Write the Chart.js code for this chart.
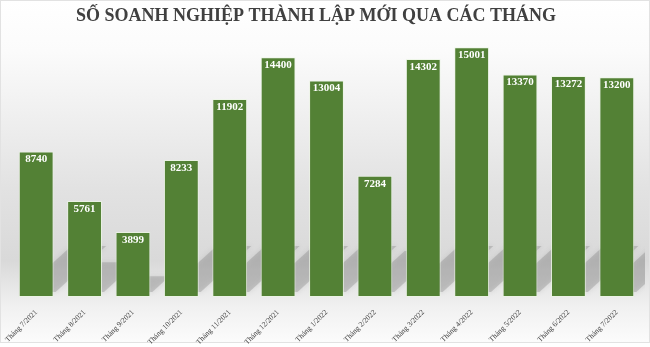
<!DOCTYPE html>
<html>
<head>
<meta charset="utf-8">
<script src="https://cdn.jsdelivr.net/npm/chart.js@4"></script>
<style>
  html, body { margin: 0; padding: 0; background: #fff; }
  #wrap { width: 650px; height: 347px; }
</style>
</head>
<body>
<div id="wrap"><canvas id="chart"></canvas></div>
<script>
// du lieu
var months = ["Tháng 7/2021", "Tháng 8/2021", "Tháng 9/2021", "Tháng 10/2021", "Tháng 11/2021",
  "Tháng 12/2021", "Tháng 1/2022", "Tháng 2/2022", "Tháng 3/2022", "Tháng 4/2022",
  "Tháng 5/2022", "Tháng 6/2022", "Tháng 7/2022"];
var soDoanhNghiep = [8740, 5761, 3899, 8233, 11902, 14400, 13004, 7284, 14302, 15001, 13370, 13272, 13200];
var tieuDe = "SỐ SOANH NGHIỆP THÀNH LẬP MỚI QUA CÁC THÁNG";

// nen, tieu de, bong cua cot, nhan gia tri
var nenPlugin = {
  id: "nen",
  beforeDraw: function (chart) {
    var ctx = chart.ctx;
    var w = chart.width, h = 343;
    var g = ctx.createLinearGradient(0, 0, 0, h);
    g.addColorStop(0, "#ffffff");
    g.addColorStop(0.15, "#fbfbfb");
    g.addColorStop(0.55, "#e2e2e2");
    g.addColorStop(0.76, "#d9d9d9");
    g.addColorStop(0.89, "#f0f0f0");
    g.addColorStop(1, "#fcfcfc");
    ctx.save();
    ctx.fillStyle = "#ffffff";
    ctx.fillRect(0, 0, w, chart.height);
    ctx.fillStyle = g;
    ctx.fillRect(0, 0, w, h);
    ctx.strokeStyle = "#e2e2e2";
    ctx.lineWidth = 1;
    ctx.strokeRect(0.5, 0.5, w - 1, h - 1);
    // tieu de
    ctx.fillStyle = "#404040";
    ctx.font = "bold 18px 'Liberation Serif'";
    ctx.textAlign = "center";
    ctx.textBaseline = "middle";
    ctx.fillText(tieuDe, 316, 16);
    ctx.restore();
  },
  beforeDatasetsDraw: function (chart) {
    var ctx = chart.ctx;
    var meta = chart.getDatasetMeta(0);
    ctx.save();
    ctx.beginPath();
    ctx.rect(0, chart.chartArea.top, chart.width - 5, chart.chartArea.bottom - chart.chartArea.top);
    ctx.clip();
    ctx.fillStyle = "rgba(120,120,120,0.3)";
    ctx.shadowColor = "rgba(120,120,120,0.5)";
    ctx.shadowBlur = 5;
    meta.data.forEach(function (bar) {
      var x0 = bar.x - bar.width / 2, x1 = bar.x + bar.width / 2;
      var b = bar.base - 5;
      var hgt = bar.base - bar.y;
      var rise = Math.max(0, Math.min(0.45 * (hgt - 30), 46));
      var run = rise * 1.1;
      ctx.beginPath();
      ctx.moveTo(x0 + 2, b);
      ctx.lineTo(x1 + 2, b);
      ctx.lineTo(x1 + 2 + run, b - rise);
      ctx.lineTo(x0 + 2 + run, b - rise);
      ctx.closePath();
      ctx.fill();
    });
    ctx.restore();
  },
  afterDatasetsDraw: function (chart) {
    var ctx = chart.ctx;
    var meta = chart.getDatasetMeta(0);
    ctx.save();
    ctx.fillStyle = "#ffffff";
    ctx.font = "bold 11px 'Liberation Serif'";
    ctx.textAlign = "center";
    ctx.textBaseline = "middle";
    meta.data.forEach(function (bar, i) {
      ctx.fillText(String(soDoanhNghiep[i]), bar.x, bar.y + 8);
    });
    ctx.restore();
  }
};

var ctx = document.getElementById("chart").getContext("2d");
var chart = new Chart(ctx, {
  type: "bar",
  data: {
    labels: months,
    datasets: [{
      label: "Số doanh nghiệp",
      data: soDoanhNghiep,
      backgroundColor: "#538135",
      borderColor: "rgba(235,245,228,0.8)",
      borderWidth: 1,
      borderSkipped: false,
      barPercentage: 0.72,
      categoryPercentage: 1
    }]
  },
  options: {
    responsive: true,
    maintainAspectRatio: false,
    animation: false,
    layout: { padding: { left: 12, right: 9, top: 34, bottom: 0 } },
    plugins: {
      legend: { display: false },
      tooltip: { enabled: false },
      title: { display: false }
    },
    scales: {
      y: {
        display: false,
        min: 0,
        max: 15800
      },
      x: {
        grid: { display: false },
        border: { display: false },
        afterFit: function (scale) { scale.height = 50; },
        ticks: {
          color: "#404040",
          font: { family: "'Liberation Serif'", size: 7.5 },
          maxRotation: 45,
          minRotation: 45,
          autoSkip: false,
          padding: 3
        }
      }
    }
  },
  plugins: [nenPlugin]
});
</script>
</body>
</html>
